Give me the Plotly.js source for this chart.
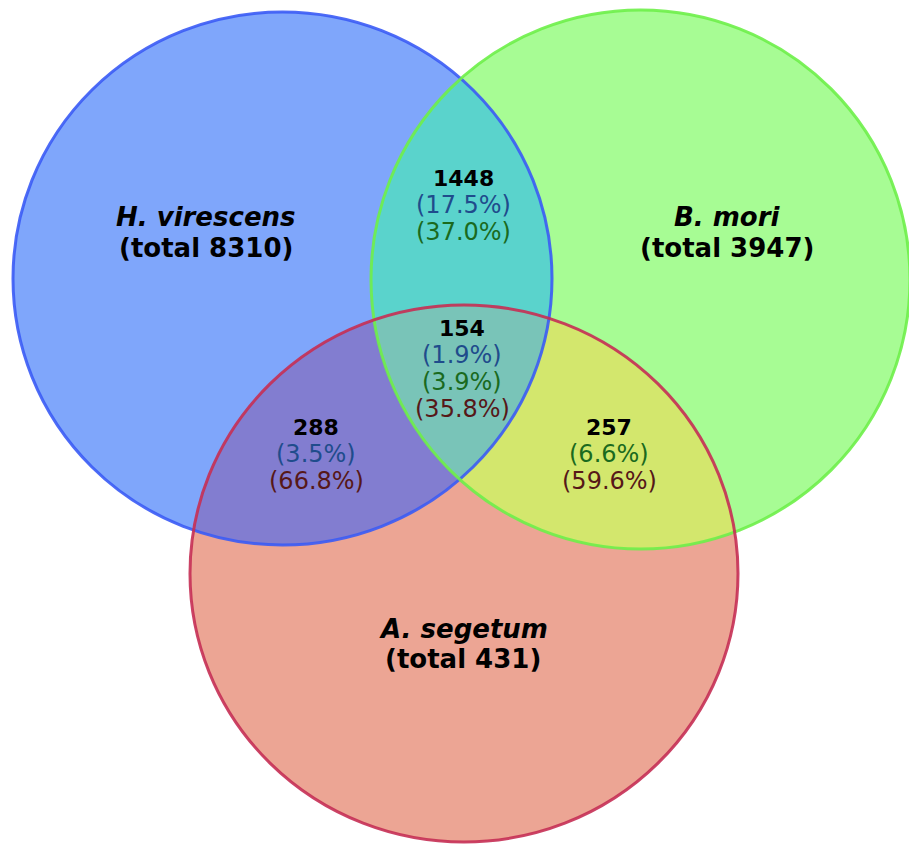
<!DOCTYPE html>
<html><head><meta charset="utf-8">
<script src="https://cdn.plot.ly/plotly-3.0.1.min.js"></script>
<style>html,body{margin:0;padding:0;background:#fff;overflow:hidden}</style>
</head><body><div id="chart" style="width:909px;height:844px"></div>
<script>
// ---- data ----
const setNames = ["H. virescens", "B. mori", "A. segetum"];
const setTotals = [8310, 3947, 431];
const regionNames = ["H∩B", "H∩B∩A", "H∩A", "B∩A"];
const regionCounts = [1448, 154, 288, 257];
const pctOfH = [17.5, 1.9, 3.5, null];
const pctOfB = [37.0, 3.9, null, 6.6];
const pctOfA = [null, 35.8, 66.8, 59.6];

// ---- geometry / styles (layout) ----
const circles = [
  {cx: 282.5, cy: 278.5, rx: 269.5, ry: 266.5, fill: "#7fa6fb", line: "#3b5cf6"},
  {cx: 640.5, cy: 279.5, rx: 269.5, ry: 269.5, fill: "#a7fc94", line: "#6ef04a"},
  {cx: 464.0, cy: 573.5, rx: 274.0, ry: 268.5, fill: "#eca594", line: "#c62f55"}
];
const setLabelPos = [[206, 217, 248], [727, 217, 248], [463, 629, 659]];
const regionSets = [[0, 1], [0, 1, 2], [0, 2], [1, 2]];
const regionFill = ["#5ad3cc", "#79c4b8", "#827dd0", "#d3e76d"];
const regionLabelPos = [[463, 178], [462, 328], [316, 427], [609, 427]];
const pctColors = ["#1f4c8c", "#1a6a1e", "#561818"];
const lineGap = 27;

function inside(c, x, y) {
  const dx = (x - c.cx) / c.rx, dy = (y - c.cy) / c.ry;
  return dx * dx + dy * dy <= 1 + 1e-9;
}
function regionPoly(idx) {
  const N = 1440, pts = [];
  idx.forEach(i => {
    const c = circles[i];
    for (let k = 0; k < N; k++) {
      const t = 2 * Math.PI * k / N;
      const x = c.cx + c.rx * Math.cos(t), y = c.cy + c.ry * Math.sin(t);
      if (idx.every(j => j === i || inside(circles[j], x, y))) pts.push([x, y]);
    }
  });
  const mx = pts.reduce((s, p) => s + p[0], 0) / pts.length;
  const my = pts.reduce((s, p) => s + p[1], 0) / pts.length;
  pts.sort((a, b) => Math.atan2(a[1] - my, a[0] - mx) - Math.atan2(b[1] - my, b[0] - mx));
  pts.push(pts[0]);
  return {x: pts.map(p => p[0]), y: pts.map(p => p[1])};
}
function fillTrace(idx, color) {
  const p = regionPoly(idx);
  return {type: "scatter", mode: "lines", x: p.x, y: p.y, fill: "toself",
    fillcolor: color, line: {width: 0, color: color}, hoverinfo: "skip"};
}

const traces = [
  fillTrace([0], circles[0].fill),
  fillTrace([1], circles[1].fill),
  fillTrace(regionSets[0], regionFill[0]),
  fillTrace([2], circles[2].fill),
  fillTrace(regionSets[2], regionFill[2]),
  fillTrace(regionSets[3], regionFill[3]),
  fillTrace(regionSets[1], regionFill[1])
];

const shapes = circles.map(c => ({
  type: "circle", xref: "x", yref: "y", layer: "above", opacity: 0.9,
  x0: c.cx - c.rx, x1: c.cx + c.rx, y0: c.cy - c.ry, y1: c.cy + c.ry,
  line: {color: c.line, width: 3}, fillcolor: "rgba(0,0,0,0)"
}));

const FONT = "Verdana, 'DejaVu Sans', sans-serif";
const annotations = [];
setNames.forEach((n, i) => {
  const [x, y1, y2] = setLabelPos[i];
  annotations.push({x: x, y: y1, xref: "x", yref: "y", showarrow: false,
    text: "<b><i>" + n + "</i></b>", font: {family: FONT, size: 26, color: "#000"}});
  annotations.push({x: x, y: y2, xref: "x", yref: "y", showarrow: false,
    text: "<b>(total " + setTotals[i] + ")</b>", font: {family: FONT, size: 26, color: "#000"}});
});
regionCounts.forEach((v, i) => {
  const [x, y] = regionLabelPos[i];
  annotations.push({x: x, y: y, xref: "x", yref: "y", showarrow: false,
    text: "<b>" + v + "</b>", font: {family: FONT, size: 22, color: "#000"}});
  let row = 1;
  [pctOfH, pctOfB, pctOfA].forEach((arr, s) => {
    if (arr[i] === null) return;
    annotations.push({x: x, y: y + row * lineGap, xref: "x", yref: "y", showarrow: false,
      text: "(" + arr[i].toFixed(1) + "%)", font: {family: FONT, size: 24, color: pctColors[s]}});
    row++;
  });
});

const layout = {
  width: 909, height: 844,
  margin: {l: 0, r: 0, t: 0, b: 0},
  paper_bgcolor: "#fff", plot_bgcolor: "#fff",
  showlegend: false, hovermode: false,
  xaxis: {range: [0, 909], visible: false, fixedrange: true},
  yaxis: {range: [844, 0], visible: false, fixedrange: true},
  shapes: shapes, annotations: annotations
};
Plotly.newPlot("chart", traces, layout, {staticPlot: true, displayModeBar: false});
</script></body></html>
